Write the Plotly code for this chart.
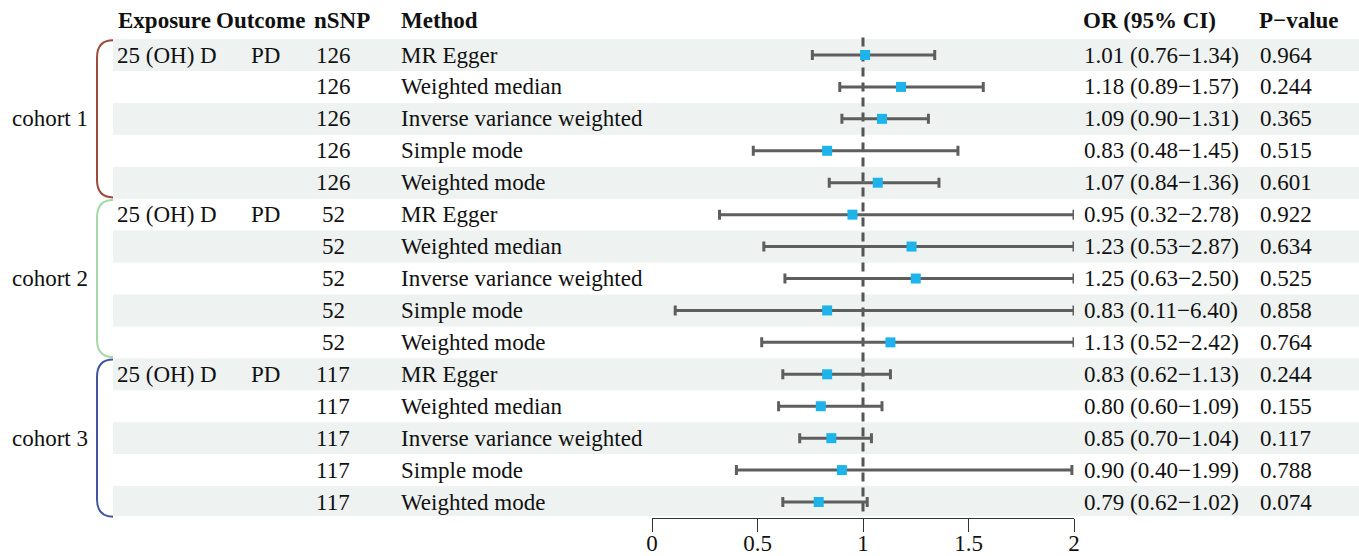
import plotly.graph_objects as go

W, H = 1359, 556

cohorts = ["cohort 1", "cohort 2", "cohort 3"]
cohort_colors = ["#9E4B3B", "#A6D9A6", "#4455A0"]
nsnp = [126, 52, 117]
exposure = "25 (OH) D"
outcome = "PD"
methods = ["MR Egger", "Weighted median", "Inverse variance weighted", "Simple mode", "Weighted mode"]

or_vals = [1.01, 1.18, 1.09, 0.83, 1.07,
           0.95, 1.23, 1.25, 0.83, 1.13,
           0.83, 0.80, 0.85, 0.90, 0.79]
ci_low = [0.76, 0.89, 0.90, 0.48, 0.84,
          0.32, 0.53, 0.63, 0.11, 0.52,
          0.62, 0.60, 0.70, 0.40, 0.62]
ci_high = [1.34, 1.57, 1.31, 1.45, 1.36,
           2.78, 2.87, 2.50, 6.40, 2.42,
           1.13, 1.09, 1.04, 1.99, 1.02]
p_vals = ["0.964", "0.244", "0.365", "0.515", "0.601",
          "0.922", "0.634", "0.525", "0.858", "0.764",
          "0.244", "0.155", "0.117", "0.788", "0.074"]
x_ticks = [0, 0.5, 1, 1.5, 2]
x_max = 2

FONT = "Liberation Serif, Times New Roman, serif"
FS = 23
n = len(or_vals)
rows = list(range(1, n + 1))

def px(x):
    return x / W

# pixel layout
row0_px = 55.0
row_h = 31.93
axis_px = 518.0
y_top = 1 - row0_px / row_h
y_bot = 1 + (axis_px - row0_px) / row_h

fig = go.Figure()

shapes = []
# stripes
for r in rows:
    if r % 2 == 1:
        shapes.append(dict(type="rect", xref="paper", yref="y", x0=px(113), x1=1,
                           y0=r - 0.5, y1=min(r + 0.5, y_bot - 0.06), fillcolor="#EEF2F0",
                           line=dict(width=0), layer="below"))
# reference line
shapes.append(dict(type="line", xref="x", yref="y", x0=1, x1=1, y0=0.45, y1=n + 0.45,
                   line=dict(color="#555555", width=3, dash="9px,6px"), layer="below"))

annotations = []
# braces
xa, xb = px(113), px(97)
for k, c in enumerate(cohorts):
    t = k * 5 + 0.5 + 0.04
    b = k * 5 + 5.5 - 0.04
    d = 0.55
    path = (f"M {xa},{t} Q {xb},{t} {xb},{t + d} L {xb},{b - d} Q {xb},{b} {xa},{b}")
    shapes.append(dict(type="path", xref="paper", yref="y", path=path,
                       line=dict(color=cohort_colors[k], width=2)))
    annotations.append(dict(x=px(90), y=k * 5 + 3, xref="paper", yref="y", text=c,
                            showarrow=False, xanchor="right", yanchor="middle",
                            font=dict(family=FONT, size=FS, color="#111")))

# header
headers = [("Exposure", 116), ("Outcome", 214), ("nSNP", 312), ("Method", 399),
           ("OR (95% CI)", 1081), ("P\u2212value", 1257)]
for txt, x in headers:
    annotations.append(dict(x=px(x), y=-0.07, xref="paper", yref="y", text=f"<b>{txt}</b>",
                            showarrow=False, xanchor="left", yanchor="middle",
                            font=dict(family=FONT, size=FS, color="#111")))

def add_text(txt, x, r, anchor="left"):
    annotations.append(dict(x=px(x), y=r, xref="paper", yref="y", text=txt,
                            showarrow=False, xanchor=anchor, yanchor="middle",
                            font=dict(family=FONT, size=FS, color="#111")))

for i in range(n):
    r = rows[i]
    k = i // 5
    if i % 5 == 0:
        add_text(exposure, 115, r)
        add_text(outcome, 249, r)
    add_text(str(nsnp[k]), 333, r, "center")
    add_text(methods[i % 5], 399, r)
    add_text(f"{or_vals[i]:.2f} ({ci_low[i]:.2f}\u2212{ci_high[i]:.2f})", 1082, r)
    add_text(p_vals[i], 1258, r)

upper = [min(h, x_max) - o for h, o in zip(ci_high, or_vals)]
lower = [o - l for o, l in zip(or_vals, ci_low)]

fig.add_trace(go.Scatter(
    x=or_vals, y=rows, mode="markers",
    marker=dict(symbol="square", size=10, color="#1DB4EC"),
    error_x=dict(type="data", symmetric=False, array=upper, arrayminus=lower,
                 color="#5E5E5E", thickness=3, width=5),
    cliponaxis=False, showlegend=False, hoverinfo="skip"))

fig.update_layout(
    width=W, height=H, margin=dict(l=0, r=0, t=0, b=0, autoexpand=False),
    paper_bgcolor="white", plot_bgcolor="rgba(0,0,0,0)",
    shapes=shapes, annotations=annotations,
    xaxis=dict(domain=[652 / W, 1074 / W], range=[0, x_max], tickvals=x_ticks,
               ticktext=[f"{v:g}" for v in x_ticks], automargin=False,
               showgrid=False, zeroline=False, showline=True, linecolor="#333",
               linewidth=1.2, ticks="outside", ticklen=13, tickcolor="#333", tickwidth=1.2,
               ticklabelstandoff=-9,
               tickfont=dict(family=FONT, size=FS, color="#111"), fixedrange=True),
    yaxis=dict(domain=[(H - axis_px) / H, 1], range=[y_bot, y_top], visible=False,
               automargin=False, showgrid=False, zeroline=False, fixedrange=True),
)

fig.write_html("out.html", config={"displayModeBar": False},
               post_script="document.body.style.margin='0';document.body.style.overflow='hidden';")
